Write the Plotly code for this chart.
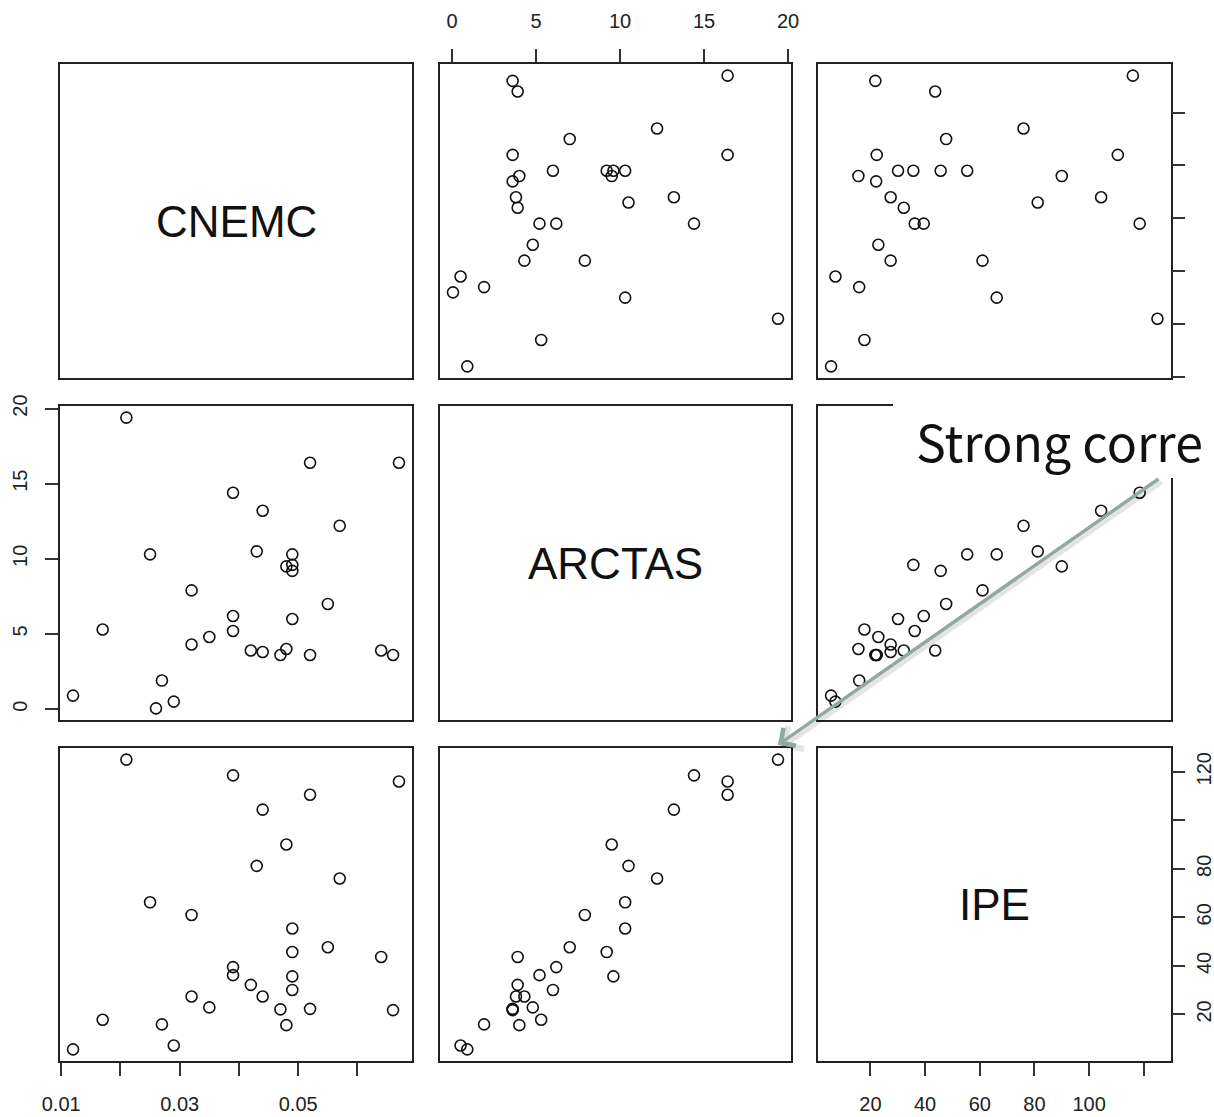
import plotly.graph_objects as go

# ---------------- data ----------------
VARIABLES = ["CNEMC", "ARCTAS", "IPE"]

CNEMC = [0.021, 0.052, 0.067, 0.039, 0.044, 0.057, 0.025, 0.043, 0.049, 0.048,
         0.049, 0.049, 0.032, 0.055, 0.039, 0.049, 0.017, 0.039, 0.035, 0.032,
         0.042, 0.044, 0.047, 0.048, 0.052, 0.064, 0.066, 0.027, 0.012, 0.026,
         0.029]
ARCTAS = [19.4, 16.4, 16.4, 14.4, 13.2, 12.2, 10.3, 10.5, 10.3, 9.5,
          9.6, 9.2, 7.9, 7.0, 6.2, 6.0, 5.3, 5.2, 4.8, 4.3,
          3.9, 3.8, 3.6, 4.0, 3.6, 3.9, 3.6, 1.9, 0.9, 0.05,
          0.5]
IPE = [125.0, 110.5, 116.0, 118.5, 104.4, 76.0, 66.2, 81.2, 55.4, 90.0,
       35.7, 45.7, 61.0, 47.7, 39.5, 30.1, 17.8, 36.2, 22.9, 27.4,
       32.2, 27.4, 22.1, 15.6, 22.3, 43.7, 21.8, 15.9, 5.6, None,
       7.2]

CNEMC_TICKS = [0.01, 0.02, 0.03, 0.04, 0.05, 0.06]
CNEMC_LABELS = ["0.01", "", "0.03", "", "0.05", ""]
ARCTAS_TICKS = [0, 5, 10, 15, 20]
ARCTAS_LABELS = ["0", "5", "10", "15", "20"]
IPE_TICKS = [20, 40, 60, 80, 100, 120]
IPE_X_LABELS = ["20", "40", "60", "80", "100", ""]
IPE_Y_LABELS = ["20", "40", "60", "80", "", "120"]

ANNOTATION_TEXT = "Strong corre"

# ---------------- layout helpers ----------------
W, H = 1214, 1117
COL_PX = [(60, 412), (440, 791), (818, 1170.5)]
ROW_PX = [(64, 378), (406, 720), (748, 1061)]
FONT = "Liberation Sans, Arial, sans-serif"
INK = "#222222"

series = {"CNEMC": CNEMC, "ARCTAS": ARCTAS, "IPE": IPE}


def xdom(c):
    return [COL_PX[c][0] / W, COL_PX[c][1] / W]


def ydom(r):
    return [1 - ROW_PX[r][1] / H, 1 - ROW_PX[r][0] / H]


def r_range(vals):
    v = [x for x in vals if x is not None]
    lo, hi = min(v), max(v)
    d = hi - lo
    return [lo - 0.04 * d, hi + 0.04 * d]


fig = go.Figure()
layout = dict(
    width=W, height=H,
    margin=dict(l=0, r=0, t=0, b=0, autoexpand=False),
    paper_bgcolor="white", plot_bgcolor="white",
    showlegend=False,
    font=dict(family=FONT, size=20, color=INK),
)

base_axis = dict(showline=True, mirror=True, linecolor=INK, linewidth=1.5,
                 showgrid=False, zeroline=False, ticks="", showticklabels=False,
                 fixedrange=True, automargin=False)
tick_style = dict(ticks="outside", ticklen=13, tickwidth=1.5, tickcolor="#333333",
                  showticklabels=True, tickfont=dict(family=FONT, size=20, color=INK))

annotations = []
for r in range(3):
    for c in range(3):
        k = r * 3 + c + 1
        xa = "x" if k == 1 else f"x{k}"
        ya = "y" if k == 1 else f"y{k}"
        xv, yv = VARIABLES[c], VARIABLES[r]
        xaxis = dict(base_axis, domain=xdom(c), anchor=ya)
        yaxis = dict(base_axis, domain=ydom(r), anchor=xa)
        if r == c:
            xaxis["range"] = [0, 1]
            yaxis["range"] = [0, 1]
            fig.add_trace(go.Scatter(x=[], y=[], xaxis=xa, yaxis=ya, hoverinfo="skip"))
            annotations.append(dict(
                text=xv, xref="paper", yref="paper",
                x=sum(xdom(c)) / 2, y=sum(ydom(r)) / 2,
                xanchor="center", yanchor="middle", showarrow=False,
                font=dict(family=FONT, size=44, color="#111111")))
        else:
            xaxis["range"] = r_range(series[xv])
            yaxis["range"] = r_range(series[yv])
            fig.add_trace(go.Scatter(
                x=series[xv], y=series[yv], xaxis=xa, yaxis=ya, mode="markers",
                marker=dict(symbol="circle-open", size=11, color="#111111",
                            line=dict(width=1.6)),
                hoverinfo="skip"))
        # outer axes with ticks (R pairs style)
        if (r, c) == (2, 0):
            xaxis.update(tick_style, side="bottom", tickvals=CNEMC_TICKS, ticktext=CNEMC_LABELS,
                         ticklabelstandoff=11)
        if (r, c) == (0, 1):
            xaxis.update(tick_style, side="top", tickvals=ARCTAS_TICKS, ticktext=ARCTAS_LABELS,
                         ticklabelstandoff=13)
        if (r, c) == (2, 2):
            xaxis.update(tick_style, side="bottom", tickvals=IPE_TICKS, ticktext=IPE_X_LABELS,
                         ticklabelstandoff=11)
            xaxis["range"] = r_range(IPE)
            yaxis.update(tick_style, side="right", tickvals=IPE_TICKS, ticktext=IPE_Y_LABELS,
                         tickangle=-90, ticklabelstandoff=2)
            yaxis["range"] = r_range(IPE)
        if (r, c) == (1, 0):
            yaxis.update(tick_style, side="left", tickvals=ARCTAS_TICKS, ticktext=ARCTAS_LABELS,
                         tickangle=-90, ticklabelstandoff=10)
        if (r, c) == (0, 2):
            yaxis.update(tick_style, side="right", tickvals=CNEMC_TICKS, ticktext=CNEMC_LABELS,
                         showticklabels=False)
        layout["xaxis" if k == 1 else f"xaxis{k}"] = xaxis
        layout["yaxis" if k == 1 else f"yaxis{k}"] = yaxis

# white call-out box with text, and arrow pointing at the strongest point
shapes = [dict(type="rect", xref="paper", yref="paper", layer="above",
               x0=893 / W, x1=1.0, y0=1 - 478 / H, y1=1 - 392 / H,
               fillcolor="white", line=dict(width=0))]
annotations.append(dict(
    text=ANNOTATION_TEXT, xref="paper", yref="paper", x=914 / W, y=1 - 440 / H,
    xanchor="left", yanchor="middle", showarrow=False,
    font=dict(family="Noto Sans CJK JP, Noto Sans, sans-serif", size=50, color="#111111")))
# arrow shadow
annotations.append(dict(
    text="", xref="paper", yref="paper", x=781 / W, y=1 - 748 / H,
    ax=382, ay=-267, showarrow=True, arrowhead=4, arrowsize=1.2, arrowwidth=4.5,
    arrowcolor="rgba(0,0,0,0.10)", standoff=0, startstandoff=0))
annotations.append(dict(
    text="", xref="paper", yref="paper", x=778 / W, y=1 - 745 / H,
    ax=382, ay=-267, showarrow=True, arrowhead=4, arrowsize=1.2, arrowwidth=3.5,
    arrowcolor="#93A89E", standoff=0, startstandoff=0))

layout["annotations"] = annotations
layout["shapes"] = shapes
fig.update_layout(**layout)
fig.write_html("out.html")
